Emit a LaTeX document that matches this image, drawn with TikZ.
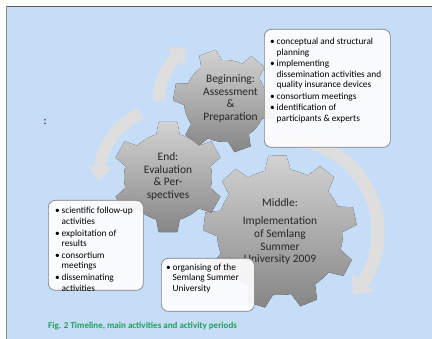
\documentclass[tikz,border=0pt]{standalone}
\usepackage{fontspec}
\setmainfont{Carlito}
\usepackage{tikz}
\usetikzlibrary{arrows.meta,bending}

\definecolor{bgblue}{HTML}{C6DDF7}
\definecolor{capgreen}{HTML}{1F9F5C}
\definecolor{gearlight}{HTML}{D2D2D2}
\definecolor{geardark}{HTML}{868686}
\definecolor{bandgray}{HTML}{DEDEDE}

\newcommand{\bl}{\makebox[6.5pt][l]{\textbullet}}
\newcommand{\ind}{\hspace*{6.5pt}}

\begin{document}
\begin{tikzpicture}[x=1pt, y=1pt,
		gear_style/.style={top color=gearlight, bottom color=geardark, draw=none},
		band_style/.style={draw=bandgray, line width=12pt, -{Triangle[width=24pt,length=14pt,flex]}},
		box_style/.style={draw=black!50, line width=0.7pt, fill=white, fill opacity=0.9, rounded corners=7pt, anchor=north west, inner sep=0pt},
		boxtext_style/.style={anchor=north west, align=left, font=\fontsize{9.3}{10.5}\selectfont, inner sep=0pt},
		gear_text/.style={align=center, font=\fontsize{11.4}{12.6}\selectfont, text=black!85}]
		
		\useasboundingbox (0,0) rectangle (432,339);
		\fill[bgblue] (7,0) rectangle (432,332);
		\draw[black!65, line width=0.8pt] (6,332.5) -- (432,332.5);
		\draw[black!45, line width=1.5pt] (6.5,0) -- (6.5,333);
		
		\coordinate (cB) at (225,238);
		\coordinate (cE) at (168,162);
		\coordinate (cM) at (280,107);
		\coordinate (aM) at (285,107);
		
		% circular arrows
		\begin{scope}[shift={(aM)}]
			\draw[band_style, line width=13pt, -{Triangle[width=27pt,length=16pt,flex]}] (95:93) arc[start angle=95, end angle=-43, radius=93];
		\end{scope}
		\begin{scope}[shift={(cB)}]
			\draw[band_style] (180:66) arc[start angle=180, end angle=126, radius=66];
		\end{scope}
		\begin{scope}[shift={(cE)}]
			\draw[band_style] (113:69) arc[start angle=113, end angle=183, radius=69];
		\end{scope}
		
		% gears
		\begin{scope}[shift={(cM)}]
			\fill[gear_style] (80.2:63) \foreach \t in {92,132,...,412} {
				-- (\t-6.7:77) -- (\t+6.7:77) -- (\t+11.8:63) arc[start angle=\t+11.8, delta angle=16.4, radius=63]
			} -- cycle;
		\end{scope}
		\begin{scope}[shift={(cB)}]
			\fill[gear_style] (94.5:41) \foreach \t in {110,170,...,410} {
				-- (\t-9.5:52) -- (\t+9.5:52) -- (\t+15.5:41) arc[start angle=\t+15.5, delta angle=29, radius=41]
			} -- cycle;
		\end{scope}
		\begin{scope}[shift={(cE)}]
			\fill[gear_style] (74.5:44) \foreach \t in {90,150,...,390} {
				-- (\t-9.5:56) -- (\t+9.5:56) -- (\t+15.5:44) arc[start angle=\t+15.5, delta angle=29, radius=44]
			} -- cycle;
		\end{scope}
		
		\node[gear_text] (tB) at (230.5,240.5) {Beginning:\\Assessment\\\&\\Preparation};
		\node[gear_text] (tE) at (168,162.5) {End:\\Evaluation\\\& Per-\\spectives};
		\node[gear_text] (tM) at (280,107.5) {Middle:\\[6pt]Implementation\\of Semlang\\Summer\\University 2009};
		
		\node (colon) at (45,217) {\fontsize{11}{13}\selectfont :};
		
		% text boxes
		\node[box_style, minimum width=126pt, minimum height=118pt] (bTR) at (264,310) {};
		\node[boxtext_style] (lTR) at ([xshift=6pt,yshift=-9pt]bTR.north west) {
			\bl conceptual and structural\\
			\ind planning\\[1pt]
			\bl implementing\\
			\ind dissemination activities and\\
			\ind quality insurance devices\\[1pt]
			\bl consortium meetings\\[1pt]
			\bl identification of\\
			\ind participants \& experts};
		
		\node[box_style, minimum width=95pt, minimum height=90pt] (bL) at (48,139) {};
		\node[boxtext_style] (lL) at ([xshift=7pt,yshift=-7.3pt]bL.north west) {
			\bl scientific follow-up\\
			\ind activities\\[1.2pt]
			\bl exploitation of\\
			\ind results\\[1.2pt]
			\bl consortium\\
			\ind meetings\\[1.2pt]
			\bl disseminating\\
			\ind activities};
		
		\node[box_style, minimum width=93pt, minimum height=53pt] (bMB) at (161,81) {};
		\node[boxtext_style] (lMB) at ([xshift=5pt,yshift=-5.5pt]bMB.north west) {
			\bl organising of the\\
			\ind Semlang Summer\\
			\ind University};
		
		\node[anchor=west, inner sep=0pt, text=capgreen, font=\fontsize{9}{11}\selectfont\bfseries] (cap) at (48,13) {Fig. 2 Timeline, main activities and activity periods};
		
\end{tikzpicture}
\end{document}
